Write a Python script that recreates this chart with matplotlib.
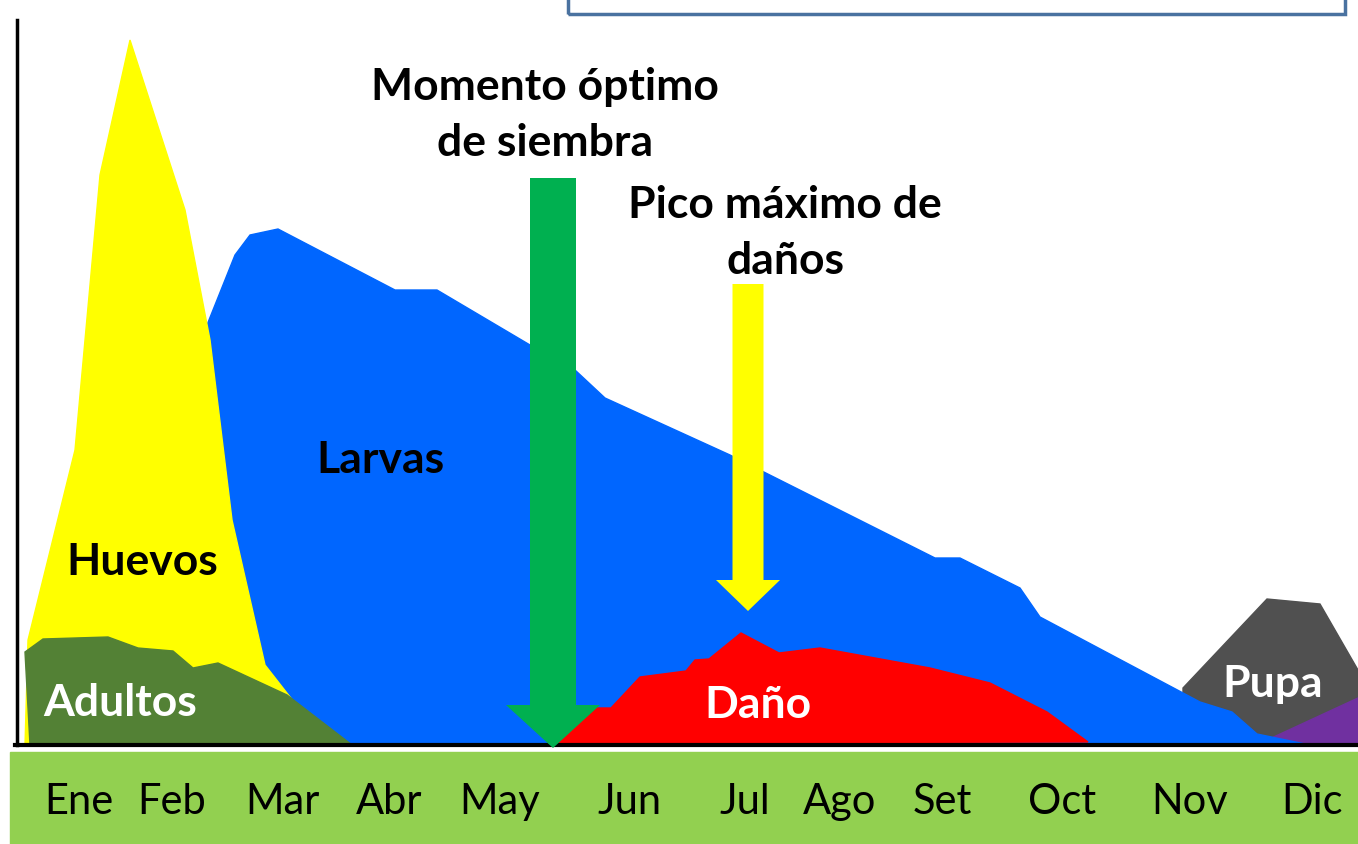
import numpy as np
import matplotlib.pyplot as plt
from matplotlib.patches import Rectangle

# x: position along the year (pixel-like units, same scale as the month labels)
# y: relative abundance above the baseline
meses = ['Ene', 'Feb', 'Mar', 'Abr', 'May', 'Jun', 'Jul', 'Ago', 'Set', 'Oct', 'Nov', 'Dic']
meses_x = [79, 172, 282, 389, 500, 629, 745, 840, 942, 1062, 1190, 1312]

larvas_x = [205, 205, 235, 250, 278, 395, 437, 530, 575, 605, 730, 935, 960, 1020, 1040,
            1200, 1232, 1257, 1310]
larvas_y = [0, 415, 490, 510, 516, 455, 455, 400, 375, 347, 290, 187, 187, 157, 128,
            43, 33, 11, 0]

huevos_x = [25, 28, 75, 100, 130, 185, 210, 232, 265, 290, 325]
huevos_y = [0, 105, 295, 570, 705, 535, 405, 225, 80, 48, 0]

adultos_x = [30, 25, 43, 108, 138, 173, 193, 218, 287, 352]
adultos_y = [0, 93, 106, 108, 97, 94, 77, 82, 50, 0]

dano_x = [555, 597, 611, 640, 686, 695, 709, 741, 779, 820, 930, 990, 1047, 1088]
dano_y = [2, 37, 37, 68, 74, 85, 86, 112, 92, 97, 77, 62, 33, 3]

pupa_x = [1183, 1267, 1320, 1358, 1358, 1183]
pupa_y = [57, 146, 141, 75, 0, 0]

adulto2_x = [1265, 1358, 1358]
adulto2_y = [4, 47, 0]

fig = plt.figure(figsize=(13.58, 8.44), dpi=100)
ax = fig.add_axes([0, 0, 1, 1])
ax.set_xlim(0, 1358)
ax.set_ylim(-99, 745)
ax.axis('off')

font = 'Lato'

# marco superior
ax.add_patch(Rectangle((568, 731), 777, 30, fill=False, edgecolor='#4a72a0', lw=2.5))

# banda de meses
ax.add_patch(Rectangle((10, -99), 1348, 92, color='#92d050', zorder=1))
for m, x in zip(meses, meses_x):
    ax.text(x, -57, m, ha='center', va='center', fontsize=30, family=font, zorder=10)

# fases
ax.fill(pupa_x, pupa_y, color='#505050', zorder=2)
ax.fill(adulto2_x, adulto2_y, color='#7030a0', zorder=3)
ax.fill(larvas_x, larvas_y, color='#0066ff', zorder=4)
ax.fill(huevos_x, huevos_y, color='#ffff00', zorder=5)
ax.fill(adultos_x, adultos_y, color='#538135', zorder=6)
ax.fill(dano_x, dano_y, color='#ff0000', zorder=6)

# ejes
ax.plot([17, 17], [0, 725], color='black', lw=2.5, zorder=7)
ax.plot([15, 1358], [0, 0], color='black', lw=3, zorder=7)

# flechas
ax.arrow(553, 567, 0, -570, width=46, head_width=94, head_length=43,
         length_includes_head=True, color='#00b050', lw=0, zorder=8)
ax.arrow(748, 461, 0, -327, width=31, head_width=64, head_length=31,
         length_includes_head=True, color='#ffff00', lw=0, zorder=8)

# textos
bold = dict(fontsize=32, fontweight='bold', family=font, ha='center', va='center', zorder=9)
ax.text(545, 630, 'Momento óptimo\nde siembra', linespacing=1.5, **bold)
ax.text(785, 512, 'Pico máximo de\ndaños', linespacing=1.5, **bold)
ax.text(380, 285, 'Larvas', **bold)
ax.text(142, 183, 'Huevos', **bold)
ax.text(120, 42, 'Adultos', color='white', **bold)
ax.text(758, 40, 'Daño', color='white', **bold)
ax.text(1273, 61, 'Pupa', color='white', **bold)

plt.savefig('out.png', dpi=100)
